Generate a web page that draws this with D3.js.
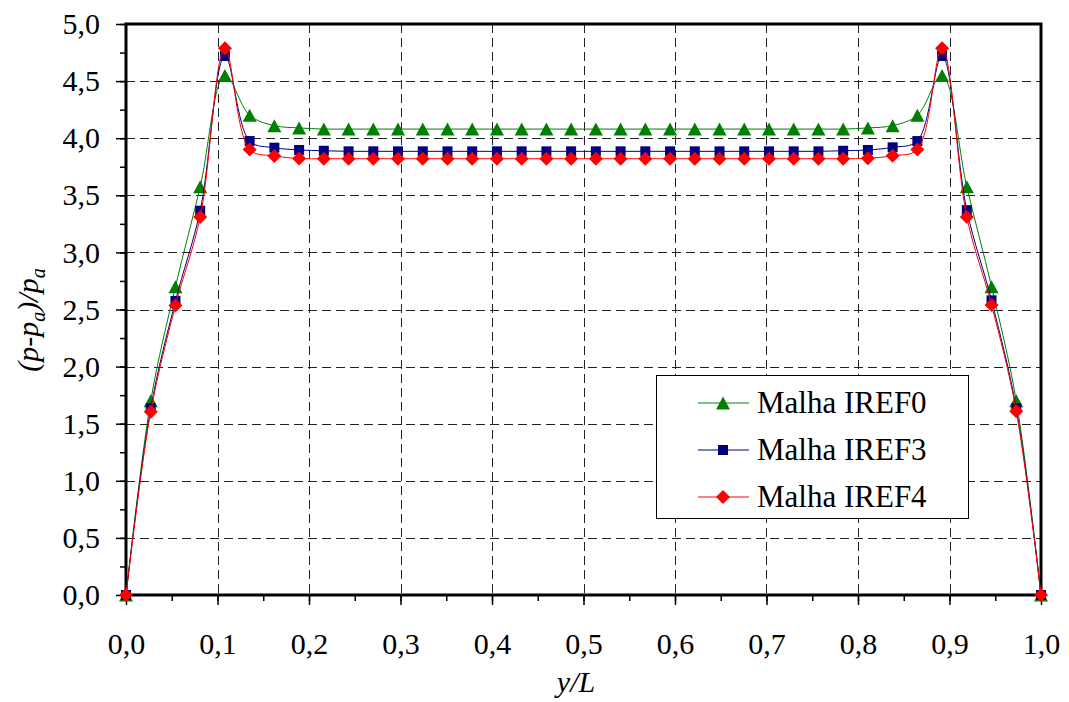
<!DOCTYPE html>
<html>
<head>
<meta charset="utf-8">
<script src="https://cdn.jsdelivr.net/npm/d3@7"></script>
<style>
  html, body { margin: 0; padding: 0; background: #fff; }
  svg { display: block; }
</style>
</head>
<body>
<script>
// ---- data (x = i/37, i = 0..37) ----
const xIndex = d3.range(38);
const nIntervals = 37;
const iref0 = [0, 1.70, 2.70, 3.575, 4.55, 4.20, 4.11, 4.09, 4.08, 4.08, 4.08, 4.08, 4.08, 4.08, 4.08, 4.08, 4.08, 4.08, 4.08,
               4.08, 4.08, 4.08, 4.08, 4.08, 4.08, 4.08, 4.08, 4.08, 4.08, 4.08, 4.09, 4.11, 4.20, 4.55, 3.575, 2.70, 1.70, 0];
const iref3 = [0, 1.635, 2.575, 3.365, 4.72, 3.975, 3.917, 3.897, 3.89, 3.885, 3.885, 3.885, 3.885, 3.885, 3.885, 3.885, 3.885, 3.885, 3.885,
               3.885, 3.885, 3.885, 3.885, 3.885, 3.885, 3.885, 3.885, 3.885, 3.885, 3.89, 3.897, 3.92, 3.975, 4.72, 3.37, 2.58, 1.635, 0];
const iref4 = [0, 1.605, 2.535, 3.31, 4.787, 3.90, 3.845, 3.822, 3.82, 3.82, 3.82, 3.82, 3.82, 3.82, 3.82, 3.82, 3.82, 3.82, 3.82,
               3.82, 3.82, 3.82, 3.82, 3.82, 3.82, 3.82, 3.82, 3.82, 3.82, 3.82, 3.824, 3.847, 3.90, 4.787, 3.31, 2.54, 1.61, 0];
const seriesNames = ["Malha IREF0", "Malha IREF3", "Malha IREF4"];
const seriesColors = ["#008000", "#000080", "#ff0000"];
const xTicks = [0, 0.1, 0.2, 0.3, 0.4, 0.5, 0.6, 0.7, 0.8, 0.9, 1.0];
const yTicks = [0, 0.5, 1.0, 1.5, 2.0, 2.5, 3.0, 3.5, 4.0, 4.5, 5.0];

const W = 1069, H = 702;
const pL = 126, pR = 1041, pT = 24, pB = 595;
const fmt = v => d3.format(".1f")(v).replace(".", ",");
const FONT = "Liberation Serif";

const svg = d3.select("body").append("svg").attr("width", W).attr("height", H)
  .attr("font-family", FONT);

const x = d3.scaleLinear().domain([0, 1]).range([pL, pR]);
const y = d3.scaleLinear().domain([0, 5]).range([pB, pT]);

// grid
const grid = svg.append("g").attr("stroke", "#222").attr("stroke-width", 1).attr("stroke-dasharray", "9,5");
grid.selectAll(".gx").data(xTicks.slice(1, -1)).join("line")
  .attr("x1", d => Math.round(x(d)) + 0.5).attr("x2", d => Math.round(x(d)) + 0.5)
  .attr("y1", pT).attr("y2", pB);
grid.selectAll(".gy").data(yTicks.slice(1, -1)).join("line")
  .attr("y1", d => Math.round(y(d)) + 0.5).attr("y2", d => Math.round(y(d)) + 0.5)
  .attr("x1", pL).attr("x2", pR);

// axes with major + minor ticks
const xMinor = d3.range(0, 1.0001, 0.05);
const yMinor = d3.range(0, 5.0001, 0.25);
const xAxisMinor = d3.axisBottom(x).tickValues(xMinor).tickSize(6).tickFormat("");
const xAxis = d3.axisBottom(x).tickValues(xTicks).tickSize(10).tickPadding(28).tickFormat(fmt);
const yAxisMinor = d3.axisLeft(y).tickValues(yMinor).tickSize(6).tickFormat("");
const yAxis = d3.axisLeft(y).tickValues(yTicks).tickSize(10).tickPadding(16).tickFormat(fmt);

function styleAxis(g) {
  g.attr("font-family", FONT).attr("font-size", 30);
  g.select(".domain").remove();
  g.selectAll(".tick line").attr("stroke", "#000").attr("stroke-width", 1.5);
  g.selectAll(".tick text").attr("fill", "#000").attr("font-family", FONT).attr("font-size", 30);
}
svg.append("g").attr("transform", `translate(0,${pB})`).call(xAxisMinor).call(styleAxis);
svg.append("g").attr("transform", `translate(0,${pB})`).call(xAxis).call(styleAxis);
svg.append("g").attr("transform", `translate(${pL},0)`).call(yAxisMinor).call(styleAxis);
svg.append("g").attr("transform", `translate(${pL},0)`).call(yAxis).call(styleAxis);

// frame
svg.append("rect").attr("x", pL).attr("y", pT).attr("width", pR - pL).attr("height", pB - pT)
  .attr("fill", "none").attr("stroke", "#000").attr("stroke-width", 3);

// marker shapes (bbox-centered)
const triangleSym = { draw(ctx, s) { const w = 7, h = 6.5; ctx.moveTo(0, -h); ctx.lineTo(w, h); ctx.lineTo(-w, h); ctx.closePath(); } };
const squareSym = { draw(ctx, s) { const r = 5; ctx.moveTo(-r, -r); ctx.lineTo(r, -r); ctx.lineTo(r, r); ctx.lineTo(-r, r); ctx.closePath(); } };
const diamondSym = { draw(ctx, s) { const w = 7, h = 7; ctx.moveTo(0, -h); ctx.lineTo(w, 0); ctx.lineTo(0, h); ctx.lineTo(-w, 0); ctx.closePath(); } };
const symbols = [triangleSym, squareSym, diamondSym];

const allSeries = [iref0, iref3, iref4];
const line = d3.line().x(d => x(d.i / nIntervals)).y(d => y(d.v)).curve(d3.curveCatmullRom.alpha(0.5));

allSeries.forEach((vals, k) => {
  const pts = xIndex.map(i => ({ i, v: vals[i] }));
  const g = svg.append("g");
  g.append("path").datum(pts).attr("d", line).attr("fill", "none")
    .attr("stroke", seriesColors[k]).attr("stroke-width", 1);
  g.selectAll("path.m").data(pts).join("path").attr("class", "m")
    .attr("transform", d => `translate(${x(d.i / nIntervals)},${y(d.v)})`)
    .attr("d", d3.symbol().type(symbols[k])())
    .attr("fill", seriesColors[k]);
});

// legend
const lg = svg.append("g");
lg.append("rect").attr("x", 656.5).attr("y", 375.5).attr("width", 312).attr("height", 143)
  .attr("fill", "#fff").attr("stroke", "#000").attr("stroke-width", 1);
const rowsY = [403, 450, 497];
seriesNames.forEach((name, k) => {
  lg.append("line").attr("x1", 698).attr("x2", 749).attr("y1", rowsY[k]).attr("y2", rowsY[k])
    .attr("stroke", seriesColors[k]).attr("stroke-width", 1);
  lg.append("path").attr("transform", `translate(723,${rowsY[k]})`)
    .attr("d", d3.symbol().type(symbols[k])()).attr("fill", seriesColors[k]);
  lg.append("text").attr("x", 757).attr("y", rowsY[k] + 10).text(name)
    .attr("font-family", FONT).attr("font-size", 31).attr("fill", "#000");
});

// axis titles
svg.append("text").attr("x", 576).attr("y", 692).attr("text-anchor", "middle")
  .attr("font-family", FONT).attr("font-size", 30).attr("font-style", "italic").text("y/L");

const yt = svg.append("text").attr("transform", "translate(38,320) rotate(-90)")
  .attr("text-anchor", "middle").attr("font-family", FONT).attr("font-size", 30).attr("font-style", "italic");
yt.append("tspan").text("(p-p");
yt.append("tspan").attr("dy", 7).attr("font-size", 20).text("a");
yt.append("tspan").attr("dy", -7).text(")/p");
yt.append("tspan").attr("dy", 7).attr("font-size", 20).text("a");
</script>
</body>
</html>
